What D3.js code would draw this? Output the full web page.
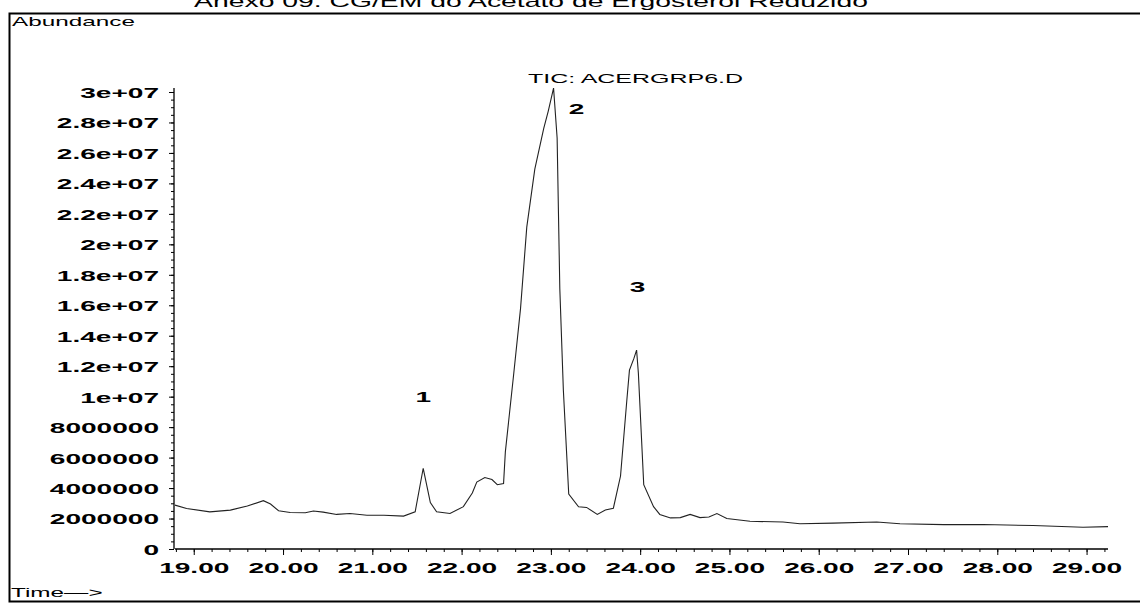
<!DOCTYPE html>
<html><head><meta charset="utf-8">
<script src="https://cdn.jsdelivr.net/npm/d3@7"></script>
<style>
html,body{margin:0;padding:0;background:#fff;}
svg{display:block;font-family:"Liberation Sans",Arial,sans-serif;}
</style></head>
<body><svg id="c" width="1140" height="604"></svg>
<script>
// ---- data (time in minutes, abundance) ----
const times = [18.79,18.92,19.18,19.41,19.60,19.78,19.86,19.95,20.08,20.25,20.34,20.45,20.60,20.75,20.94,21.13,21.35,21.48,21.57,21.65,21.72,21.87,22.02,22.12,22.17,22.26,22.34,22.40,22.47,22.49,22.58,22.66,22.73,22.82,22.92,22.97,23.03,23.07,23.10,23.14,23.20,23.31,23.40,23.52,23.61,23.70,23.78,23.85,23.88,23.93,23.96,23.98,24.04,24.15,24.22,24.34,24.45,24.56,24.67,24.77,24.86,24.97,25.23,25.60,25.79,26.16,26.65,26.91,27.40,27.84,28.40,28.96,29.24];
const abundance = [2880000,2660000,2440000,2550000,2820000,3170000,2950000,2510000,2400000,2380000,2490000,2420000,2270000,2330000,2220000,2220000,2160000,2440000,5300000,3050000,2440000,2330000,2780000,3680000,4390000,4690000,4560000,4220000,4290000,6370000,11290000,15780000,21130000,24940000,27610000,28730000,30260000,26980000,17100000,10400000,3610000,2770000,2730000,2270000,2560000,2680000,4790000,9720000,11740000,12510000,13060000,11540000,4220000,2780000,2270000,2040000,2060000,2270000,2060000,2100000,2330000,2000000,1820000,1770000,1660000,1700000,1770000,1660000,1600000,1610000,1540000,1430000,1470000];
const yTickValues = [0,2000000,4000000,6000000,8000000,10000000,12000000,14000000,16000000,18000000,20000000,22000000,24000000,26000000,28000000,30000000];
const yTickLabels = ["0","2000000","4000000","6000000","8000000","1e+07","1.2e+07","1.4e+07","1.6e+07","1.8e+07","2e+07","2.2e+07","2.4e+07","2.6e+07","2.8e+07","3e+07"];
const xTickValues = [19,20,21,22,23,24,25,26,27,28,29];
const xTickLabels = ["19.00","20.00","21.00","22.00","23.00","24.00","25.00","26.00","27.00","28.00","29.00"];
const peakLabels = ["1","2","3"];
const peakTimes = [21.57,23.03,23.96];
const peakValues = [5300000,30260000,13060000];
const titleText = "Anexo 09: CG/EM do Acetato de Ergosterol Reduzido";
const traceLabel = "TIC: ACERGRP6.D";

const SX = 1.87; // horizontal stretch of the scanned lettering
const svg = d3.select("#c");
const x = d3.scaleLinear().domain([18.79, 29.24]).range([175, 1108]);
const y = d3.scaleLinear().domain([0, 30000000]).range([549, 92]);

function stext(px, py, str, size, anchor, weight, sx){
  svg.append("text")
    .attr("transform", `translate(${px},${py}) scale(${sx||SX},1)`)
    .attr("text-anchor", anchor||"start")
    .attr("font-size", size).attr("font-weight", weight||"normal")
    .attr("fill","#000").text(str);
}

// frame
svg.append("path").attr("d","M1140,13.5 H9.5 V601.5 H1140").attr("fill","none").attr("stroke","#000").attr("stroke-width",2);

// title (cut off at top as in the scan)
stext(531, 7, titleText, 16, "middle", "normal", 1.77);

stext(12, 26, "Abundance", 13);
stext(11, 597, "Time\u2014>", 13);

// y axis
const yMinor = d3.range(0, 30000001, 500000);
svg.append("g").attr("transform","translate(174,0)")
  .call(d3.axisLeft(y).tickValues(yMinor).tickSize(3).tickFormat(""))
  .call(g=>g.select(".domain").remove()).selectAll("line").attr("stroke","#000");
const gy = svg.append("g").attr("transform","translate(174,0)")
  .call(d3.axisLeft(y).tickValues(yTickValues).tickSize(5).tickFormat((d,i)=>yTickLabels[i]));
gy.select(".domain").attr("d","M0,549V88").attr("stroke","#000").attr("stroke-width",1.3);
gy.selectAll("line").attr("stroke","#000");
gy.selectAll("text").attr("x",null).attr("dy","0.36em")
  .attr("transform",`translate(-15,0) scale(${SX},1)`)
  .attr("font-size",15).attr("font-weight","bold").attr("fill","#000")
  .attr("font-family","'Liberation Sans',Arial,sans-serif");

// x axis
const xMinor = d3.range(18.8, 29.25, 0.2);
svg.append("g").attr("transform","translate(0,549)")
  .call(d3.axisBottom(x).tickValues(xMinor).tickSize(3).tickFormat(""))
  .call(g=>g.select(".domain").remove()).selectAll("line").attr("stroke","#000");
const gx = svg.append("g").attr("transform","translate(0,549)")
  .call(d3.axisBottom(x).tickValues(xTickValues).tickSize(6).tickFormat((d,i)=>xTickLabels[i]));
gx.select(".domain").attr("d","M175,0H1108").attr("stroke","#000").attr("stroke-width",1.6);
gx.selectAll("line").attr("stroke","#000");
gx.selectAll("text").attr("y",null).attr("dy",null)
  .attr("transform",`translate(0,24) scale(${SX},1)`)
  .attr("font-size",15).attr("font-weight","bold").attr("fill","#000")
  .attr("font-family","'Liberation Sans',Arial,sans-serif");

// trace
const data = times.map((t,i)=>[t, abundance[i]]);
svg.append("path").datum(data)
  .attr("d", d3.line().x(d=>x(d[0])).y(d=>y(d[1])))
  .attr("fill","none").attr("stroke","#222").attr("stroke-width",1.1);

// annotations
stext(528, 83, traceLabel, 13.5, "start", "normal", 1.85);
const offs = [[0,-66],[23,26],[1,-58]];
peakLabels.forEach((lab,i)=>{
  stext(x(peakTimes[i])+offs[i][0], y(peakValues[i])+offs[i][1], lab, 15, "middle", "bold");
});
</script></body></html>
